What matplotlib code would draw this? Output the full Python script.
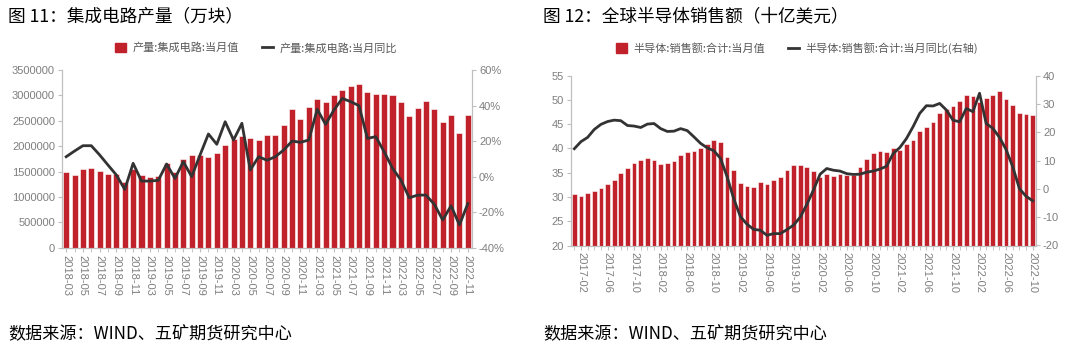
import matplotlib
matplotlib.use("Agg")
import matplotlib.pyplot as plt
from matplotlib.patches import Patch
from matplotlib.lines import Line2D
from matplotlib.ticker import FuncFormatter

plt.rcParams['font.family'] = ['Noto Sans CJK SC', 'DejaVu Sans']
plt.rcParams['axes.unicode_minus'] = False

# ---------- Chart 1: IC output ----------
ic_months = []
for y in range(2018, 2023):
    for m in range(3, 13):
        if y == 2022 and m > 11:
            break
        ic_months.append(f"{y}-{m:02d}")
ic_output = [1500000, 1440000, 1555000, 1575000, 1520000, 1460000, 1460000, 1300000, 1550000, 1440000,
             1385000, 1420000, 1660000, 1500000, 1740000, 1820000, 1830000, 1790000, 1870000, 2030000,
             2140000, 2200000, 2165000, 2120000, 2220000, 2220000, 2420000, 2725000, 2535000, 2765000,
             2920000, 2860000, 3000000, 3100000, 3180000, 3220000, 3060000, 3020000, 3020000, 3000000,
             2860000, 2590000, 2760000, 2880000, 2730000, 2475000, 2610000, 2265000, 2610000]
ic_yoy = [11.2, 14.4, 17.4, 17.4, 12.2, 6.5, 0.9, -7.2, 7.5, -2.5,
          -2.5, -2.1, 7.1, -1.0, 8.4, 0.0, 12.2, 24.0, 18.2, 30.9,
          20.6, 30.0, 3.7, 11.2, 9.2, 11.2, 15.0, 20.0, 19.3, 20.6,
          37.9, 29.4, 37.5, 44.0, 42.2, 39.9, 21.5, 22.5, 14.0, 4.7,
          -1.9, -11.9, -10.4, -10.4, -15.6, -24.4, -16.4, -27.2, -15.2]

# ---------- Chart 2: global semiconductor sales ----------
semi_months = []
for y in range(2017, 2023):
    for m in range(1, 13):
        if y == 2022 and m > 10:
            break
        semi_months.append(f"{y}-{m:02d}")
semi_sales = [30.7, 30.3, 30.9, 31.3, 31.9, 32.7, 33.6, 34.9, 36.0, 37.1, 37.7, 38.1,
              37.7, 36.7, 37.1, 37.5, 38.7, 39.2, 39.5, 40.1, 41.0, 41.8, 41.4, 38.2,
              35.5, 32.8, 32.3, 32.1, 33.0, 32.7, 33.4, 34.2, 35.6, 36.5, 36.6, 36.2,
              35.4, 34.2, 34.8, 34.4, 34.8, 34.6, 34.6, 36.2, 37.9, 39.1, 39.5, 39.2,
              40.0, 39.7, 41.0, 41.8, 43.6, 44.5, 45.5, 47.3, 48.2, 48.8, 49.7, 51.0,
              50.8, 49.6, 50.5, 51.0, 51.8, 50.1, 48.9, 47.3, 47.1, 46.9]
semi_yoy = [14.2, 16.7, 18.2, 21.0, 22.8, 23.8, 24.3, 24.1, 22.4, 22.2, 21.7, 22.9,
            23.1, 21.3, 20.3, 20.4, 21.3, 20.6, 18.4, 16.1, 14.5, 13.5, 10.8, 4.3,
            -3.5, -9.8, -12.5, -14.3, -14.6, -16.4, -15.8, -15.8, -14.4, -12.8, -10.0, -5.5,
            -0.4, 5.2, 7.2, 6.6, 6.3, 5.4, 5.1, 5.2, 5.9, 6.3, 7.0, 8.0,
            12.5, 14.6, 17.8, 22.0, 26.7, 29.4, 29.3, 30.2, 27.9, 24.3, 23.7, 28.4,
            27.3, 33.8, 23.1, 21.4, 18.2, 13.9, 7.8, 0.1, -2.6, -4.2]

BAR = '#C1212B'
LINE = '#333333'
TICK = '#7F7F7F'
AXC = '#BFBFBF'
NUMFONT = ['Liberation Sans', 'DejaVu Sans']

fig = plt.figure(figsize=(10.8, 3.54), dpi=100)


def style_axes(ax, axr, n, start, step, labels):
    x = list(range(n))
    ax.set_xlim(-0.5, n - 0.5)
    ax.set_xticks(x, minor=True)
    ax.set_xticks(x[start::step])
    ax.set_xticklabels(labels[start::step], rotation=270, fontsize=8, color=TICK,
                       family=NUMFONT)
    ax.tick_params(axis='x', which='both', length=3, color=AXC, pad=2)
    for a in (ax, axr):
        a.spines['top'].set_visible(False)
        for s in ('left', 'right', 'bottom'):
            a.spines[s].set_color(AXC)
            a.spines[s].set_linewidth(0.8)
    ax.tick_params(axis='y', labelsize=8, colors=TICK, length=3, color=AXC, pad=2)
    axr.tick_params(axis='y', labelsize=8, colors=TICK, length=3, color=AXC, pad=2)
    for lab in ax.get_yticklabels() + axr.get_yticklabels():
        lab.set_family(NUMFONT)
    ax.set_zorder(axr.get_zorder() - 1)
    ax.patch.set_visible(True)
    axr.patch.set_visible(False)


# ----- Panel 1 -----
ax1 = fig.add_axes([62 / 1080, 1 - 247.7 / 354, 410 / 1080, 177.7 / 354])
ax1r = ax1.twinx()
n1 = len(ic_months)
ax1.bar(range(n1), ic_output, width=0.72, color=BAR, edgecolor='white', linewidth=0.4)
ax1r.plot(range(n1), ic_yoy, color=LINE, linewidth=2)
ax1.set_ylim(0, 3500000)
ax1.set_yticks(range(0, 3500001, 500000))
ax1.yaxis.set_major_formatter(FuncFormatter(lambda v, p: f"{int(v)}"))
ax1r.set_ylim(-40, 60)
ax1r.set_yticks(range(-40, 61, 20))
ax1r.yaxis.set_major_formatter(FuncFormatter(lambda v, p: f"{int(v)}%"))
style_axes(ax1, ax1r, n1, 0, 2, ic_months)

fig.text(8 / 1080, 1 - 16 / 354, "图 11：集成电路产量（万块）", fontsize=12.7, color='black',
         va='center', ha='left')
h1 = [Patch(facecolor=BAR, edgecolor=BAR), Line2D([0], [0], color=LINE, lw=2)]
fig.legend(h1, ["产量:集成电路:当月值", "产量:集成电路:当月同比"], loc='center',
           bbox_to_anchor=(256 / 1080, 1 - 48 / 354), ncol=2, frameon=False, fontsize=8,
           labelcolor='#595959', handlelength=1.0, handleheight=0.9, columnspacing=2.0,
           handletextpad=0.6)
fig.text(8 / 1080, 1 - 333 / 354, "数据来源：WIND、五矿期货研究中心", fontsize=12.3,
         color='black', va='center', ha='left')

# ----- Panel 2 -----
ax2 = fig.add_axes([571 / 1080, 1 - 245.5 / 354, 465 / 1080, 169.8 / 354])
ax2r = ax2.twinx()
n2 = len(semi_months)
ax2.bar(range(n2), semi_sales, width=0.72, color=BAR, edgecolor='white', linewidth=0.4)
ax2r.plot(range(n2), semi_yoy, color=LINE, linewidth=2)
ax2.set_ylim(20, 55)
ax2.set_yticks(range(20, 56, 5))
ax2r.set_ylim(-20, 40)
ax2r.set_yticks(range(-20, 41, 10))
style_axes(ax2, ax2r, n2, 1, 4, semi_months)

fig.text(543 / 1080, 1 - 16 / 354, "图 12：全球半导体销售额（十亿美元）", fontsize=12.7,
         color='black', va='center', ha='left')
h2 = [Patch(facecolor=BAR, edgecolor=BAR), Line2D([0], [0], color=LINE, lw=2)]
fig.legend(h2, ["半导体:销售额:合计:当月值", "半导体:销售额:合计:当月同比(右轴)"], loc='center',
           bbox_to_anchor=(797 / 1080, 1 - 48 / 354), ncol=2, frameon=False, fontsize=8,
           labelcolor='#595959', handlelength=1.0, handleheight=0.9, columnspacing=2.0,
           handletextpad=0.6)
fig.text(543 / 1080, 1 - 333 / 354, "数据来源：WIND、五矿期货研究中心", fontsize=12.3,
         color='black', va='center', ha='left')

fig.savefig("out.png", dpi=100)
